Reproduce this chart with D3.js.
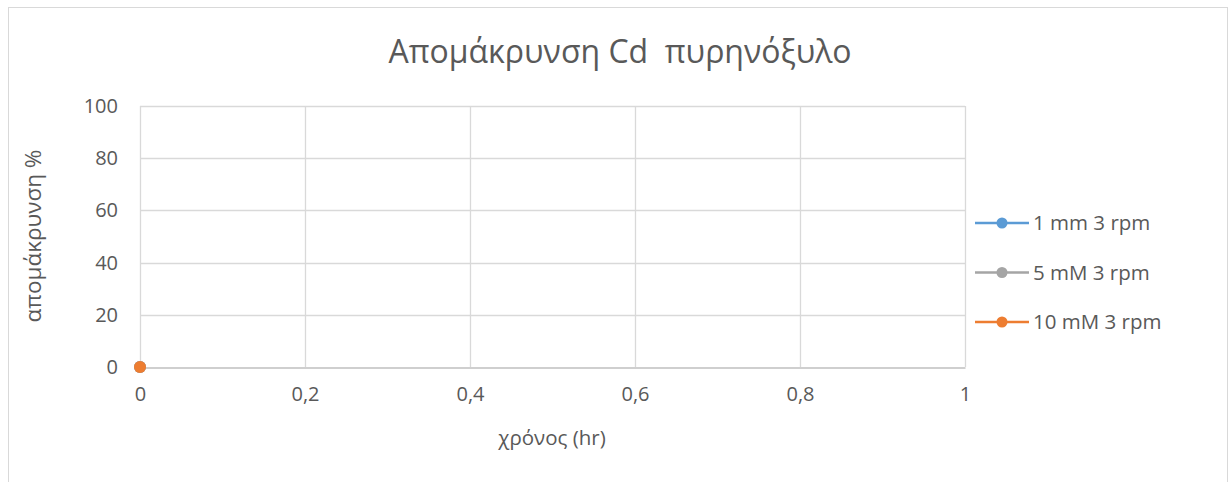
<!DOCTYPE html>
<html>
<head>
<meta charset="utf-8">
<script src="https://cdn.jsdelivr.net/npm/d3@7"></script>
<style>
  html, body { margin: 0; padding: 0; background: #fff; }
  svg { display: block; }
  svg text { font-family: "Open Sans", "Noto Sans", sans-serif; }
</style>
</head>
<body>
<svg id="chart" width="1232" height="482"></svg>
<script>
// Removal of Cd over time, three concentrations at 3 rpm
const seriesNames = ["1 mm 3 rpm", "5 mM 3 rpm", "10 mM 3 rpm"];
const seriesColors = ["#5B9BD5", "#A5A5A5", "#ED7D31"];
const timeHr = [0];
const removal1mM = [0];
const removal5mM = [0];
const removal10mM = [0];
const xTicks = [0, 0.2, 0.4, 0.6, 0.8, 1];
const yTicks = [0, 20, 40, 60, 80, 100];

const seriesValues = [removal1mM, removal5mM, removal10mM];
const series = seriesNames.map((name, i) => ({
  name,
  color: seriesColors[i],
  points: timeHr.map((t, j) => ({ x: t, y: seriesValues[i][j] }))
}));

const svg = d3.select("#chart");
const textColor = "#595959";
const font = "'Open Sans', 'Noto Sans', sans-serif";

// outer chart frame
svg.append("rect")
  .attr("x", 8.5).attr("y", 7.5)
  .attr("width", 1219).attr("height", 500)
  .attr("fill", "#fff").attr("stroke", "#d9d9d9").attr("stroke-width", 1);

const plot = { left: 140, right: 965, top: 106, bottom: 367 };

const x = d3.scaleLinear().domain([0, 1]).range([plot.left, plot.right]);
const y = d3.scaleLinear().domain([0, 100]).range([plot.bottom, plot.top]);

// gridlines
svg.append("g").selectAll("line")
  .data(yTicks.filter(d => d !== 0))
  .join("line")
  .attr("x1", plot.left).attr("x2", plot.right)
  .attr("y1", d => Math.round(y(d)) + 0.5).attr("y2", d => Math.round(y(d)) + 0.5)
  .attr("stroke", "#d9d9d9").attr("stroke-width", 1.3);

svg.append("g").selectAll("line")
  .data(xTicks)
  .join("line")
  .attr("x1", d => Math.round(x(d)) + 0.5).attr("x2", d => Math.round(x(d)) + 0.5)
  .attr("y1", plot.top).attr("y2", plot.bottom)
  .attr("stroke", "#d9d9d9").attr("stroke-width", 1.3);

// x axis
const xAxis = svg.append("g")
  .attr("transform", `translate(0,${Math.round(y(0)) + 0.5})`)
  .call(d3.axisBottom(x).tickValues(xTicks).tickSize(0).tickPadding(19)
    .tickFormat(d => d3.format("")(d).replace(".", ",")));
xAxis.attr("font-family", font).attr("font-size", 20);
xAxis.select(".domain").attr("stroke", "#bfbfbf").attr("stroke-width", 1.5);
xAxis.selectAll("text").attr("fill", textColor);

// y axis
const yAxis = svg.append("g")
  .attr("transform", `translate(${plot.left},0)`)
  .call(d3.axisLeft(y).tickValues(yTicks).tickSize(0).tickPadding(22));
yAxis.attr("font-family", font).attr("font-size", 20);
yAxis.select(".domain").remove();
yAxis.selectAll("text").attr("fill", textColor);

// series lines and markers
const line = d3.line().x(d => x(d.x)).y(d => y(d.y));
series.forEach(s => {
  svg.append("path")
    .datum(s.points)
    .attr("d", line)
    .attr("fill", "none")
    .attr("stroke", s.color)
    .attr("stroke-width", 2.5);
  svg.append("g").selectAll("circle")
    .data(s.points)
    .join("circle")
    .attr("cx", d => x(d.x)).attr("cy", d => y(d.y))
    .attr("r", 6)
    .attr("fill", s.color);
});

// title
svg.append("text")
  .attr("x", 620).attr("y", 63)
  .attr("text-anchor", "middle")
  .attr("fill", textColor)
  .attr("font-size", 32)
  .style("white-space", "pre")
  .text("Απομάκρυνση Cd  πυρηνόξυλο");

// axis titles
svg.append("text")
  .attr("x", 552).attr("y", 445)
  .attr("text-anchor", "middle")
  .attr("fill", textColor)
  .attr("font-size", 20.5)
  .text("χρόνος (hr)");

svg.append("text")
  .attr("transform", "translate(41,236) rotate(-90)")
  .attr("text-anchor", "middle")
  .attr("fill", textColor)
  .attr("font-size", 22.5)
  .text("απομάκρυνση %");

// legend
const legend = svg.append("g").selectAll("g")
  .data(series)
  .join("g")
  .attr("transform", (d, i) => `translate(975,${223 + i * 49.5})`);
legend.append("line")
  .attr("x1", 0).attr("x2", 54)
  .attr("stroke", d => d.color).attr("stroke-width", 2.5);
legend.append("circle")
  .attr("cx", 27).attr("r", 5.5)
  .attr("fill", d => d.color);
legend.append("text")
  .attr("x", 58).attr("y", 7)
  .attr("fill", textColor)
  .attr("font-size", 20.5)
  .text(d => d.name);
</script>
</body>
</html>
